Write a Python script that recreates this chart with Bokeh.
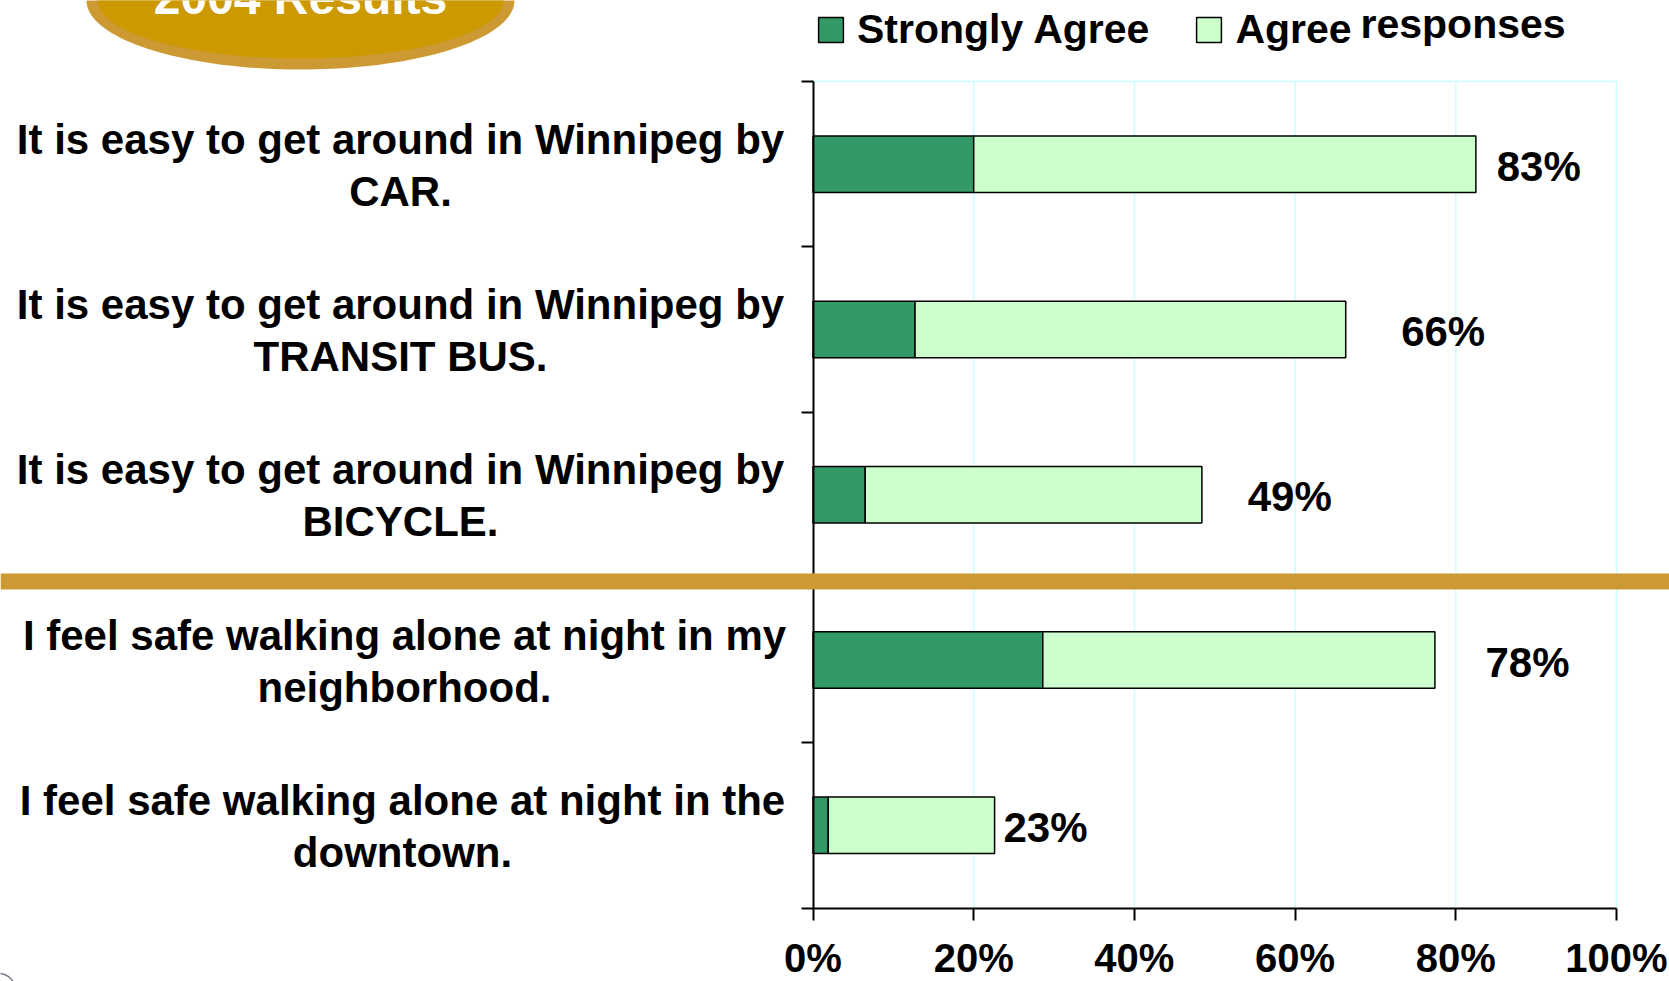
import numpy as np
from bokeh.plotting import figure
from bokeh.models import (Range1d, FixedTicker, ColumnDataSource, LabelSet, Label,
                          PolyAnnotation, BoxAnnotation, Legend, LegendItem)
from bokeh.core.properties import value
from bokeh.embed import file_html
from bokeh.resources import INLINE

# ---------------- data ----------------
categories = [
    "It is easy to get around in Winnipeg by\nCAR.",
    "It is easy to get around in Winnipeg by\nTRANSIT BUS.",
    "It is easy to get around in Winnipeg by\nBICYCLE.",
    "I feel safe walking alone at night in my\nneighborhood.",
    "I feel safe walking alone at night in the\ndowntown.",
]
strongly_agree = [20.0, 12.7, 6.5, 28.6, 1.9]
agree = [62.5, 53.6, 41.9, 48.8, 20.7]
value_labels = ["83%", "66%", "49%", "78%", "23%"]
series_names = ["Strongly Agree", "Agree"]
x_ticks = [0, 20, 40, 60, 80, 100]
x_tick_labels = ["0%", "20%", "40%", "60%", "80%", "100%"]
badge_text = "2004 Results"
extra_text = "responses"

# ---------------- layout / style ----------------
FIG_W, FIG_H = 1669, 981
FL, FR, FT, FB = 812.5, 1616.0, 81.0, 907.5     # plot-area edges in pixels
N = len(categories)
XW = FR - FL
BAND = (FB - FT) / N
FONT = "Liberation Sans"
DARK = "#339966"
LIGHT = "#CCFFCC"
GOLD_RING = "#CC9933"
GOLD_FILL = "#CC9900"
GRID = "#CCFFFF"
label_offsets = [2.6, 6.9, 5.7, 6.3, 1.1]      # manual placement of value labels
cat_label_px = [400, 400, 400, 404, 402]        # centre of each category text block


def dx(px):
    return (px - FL) / XW * 100.0


def dy(py):
    return (FB - py) / BAND


y_center = [N - i - 0.5 for i in range(N)]
total = [s + a for s, a in zip(strongly_agree, agree)]
line1 = [c.split("\n")[0] for c in categories]
line2 = [c.split("\n")[1] for c in categories]

src = ColumnDataSource(dict(
    y=y_center,
    sa=strongly_agree,
    total=total,
    zero=[0] * N,
    lab=value_labels,
    lab_x=[t + o for t, o in zip(total, label_offsets)],
    line1=line1,
    line2=line2,
    cat_x=[dx(v) for v in cat_label_px],
))

# the frame covers the whole canvas; the ranges put 0..100 % and the 5 bands
# where the reference plot area is
p = figure(width=FIG_W, height=FIG_H,
           x_range=Range1d(-FL / XW * 100.0, (FIG_W - FL) / XW * 100.0),
           y_range=Range1d(-(FIG_H - FB) / BAND, FB / BAND),
           output_backend="svg", toolbar_location=None,
           min_border=0, min_border_left=0, min_border_right=0,
           min_border_top=0, min_border_bottom=0,
           background_fill_color="white", border_fill_color="white",
           outline_line_color=None)
p.title.visible = False
p.xgrid.visible = False
p.ygrid.visible = False

# grid lines and top border of the plot area
p.segment(x0=x_ticks[1:], y0=[0] * (len(x_ticks) - 1), x1=x_ticks[1:], y1=[N] * (len(x_ticks) - 1),
          line_color=GRID, line_width=1.5, level="underlay")
p.segment(x0=[0], y0=[N], x1=[x_ticks[-1]], y1=[N], line_color=GRID, line_width=1.5,
          level="underlay")

r1 = p.hbar(y="y", left="zero", right="sa", height=0.342, source=src,
            fill_color=DARK, line_color="black", line_width=1.5)
r2 = p.hbar(y="y", left="sa", right="total", height=0.342, source=src,
            fill_color=LIGHT, line_color="black", line_width=1.5)

# x axis, fixed at y = 0
xa = p.xaxis[0]
xa.fixed_location = 0
xa.bounds = (x_ticks[0], x_ticks[-1])
xa.ticker = FixedTicker(ticks=x_ticks)
xa.major_label_overrides = {t: l for t, l in zip(x_ticks, x_tick_labels)}
xa.major_label_text_font = FONT
xa.major_label_text_font_style = "bold"
xa.major_label_text_font_size = "40px"
xa.major_label_text_color = "black"
xa.major_label_standoff = 16
xa.major_tick_out = 12
xa.major_tick_in = 0
xa.major_tick_line_width = 2
xa.minor_tick_line_color = None
xa.axis_line_width = 2
xa.axis_line_color = "black"

# y axis, fixed at x = 0, with ticks on the band boundaries
ya = p.yaxis[0]
ya.fixed_location = 0
ya.bounds = (0, N)
ya.ticker = FixedTicker(ticks=[], minor_ticks=list(range(N + 1)))
ya.minor_tick_out = 12
ya.minor_tick_in = 0
ya.minor_tick_line_width = 2
ya.minor_tick_line_color = "black"
ya.major_tick_line_color = None
ya.axis_line_width = 2
ya.axis_line_color = "black"

# category labels (two centred lines each)
cat_style = dict(source=src, x="cat_x", y="y", text_align="center", text_baseline="middle",
                 text_font=value(FONT), text_font_style="bold", text_font_size="42px",
                 text_color="black")
p.add_layout(LabelSet(text="line1", y_offset=25, **cat_style))
p.add_layout(LabelSet(text="line2", y_offset=-27, **cat_style))

# value labels
p.add_layout(LabelSet(x="lab_x", y="y", text="lab", source=src, y_offset=-2,
                      text_align="left", text_baseline="middle",
                      text_font=value(FONT), text_font_style="bold",
                      text_font_size="42px", text_color="black"))

# gold separator across the page
p.add_layout(BoxAnnotation(top=dy(573), bottom=dy(589),
                           fill_color=GOLD_RING, fill_alpha=1.0, line_alpha=0))

# badge
t = np.linspace(0, 2 * np.pi, 160)
p.add_layout(PolyAnnotation(xs=[dx(v) for v in 300 + 214 * np.cos(t)],
                            ys=[dy(v) for v in 0 + 69 * np.sin(t)],
                            fill_color=GOLD_RING, fill_alpha=1.0, line_alpha=0))
p.add_layout(PolyAnnotation(xs=[dx(v) for v in 300 + 203 * np.cos(t)],
                            ys=[dy(v) for v in 0 + 58 * np.sin(t)],
                            fill_color=GOLD_FILL, fill_alpha=1.0, line_alpha=0))
p.add_layout(Label(x=dx(300), y=dy(-3), text=badge_text, text_align="center",
                   text_baseline="middle", text_font=FONT,
                   text_font_style="bold", text_font_size="48px", text_color="white"))

# small slide artefact in the lower-left corner
p.scatter(x=[dx(-2)], y=[dy(990)], marker="circle", size=34, fill_alpha=0,
          line_color="#777788", line_width=1.5)

# legend
legend = Legend(items=[LegendItem(label=series_names[0], renderers=[r1]),
                       LegendItem(label=series_names[1], renderers=[r2])],
                orientation="horizontal", location=(815, 928),
                glyph_width=31, glyph_height=31, label_standoff=11, spacing=44,
                padding=0, margin=0, border_line_alpha=0, background_fill_alpha=0,
                label_text_font=FONT, label_text_font_style="bold",
                label_text_font_size="41px", label_text_color="black")
p.add_layout(legend)

p.add_layout(Label(x=dx(1360), y=dy(23), text=extra_text, text_align="left",
                   text_baseline="middle", text_font=FONT,
                   text_font_style="bold", text_font_size="41px", text_color="black"))

open("out.html", "w").write(file_html(p, INLINE))
